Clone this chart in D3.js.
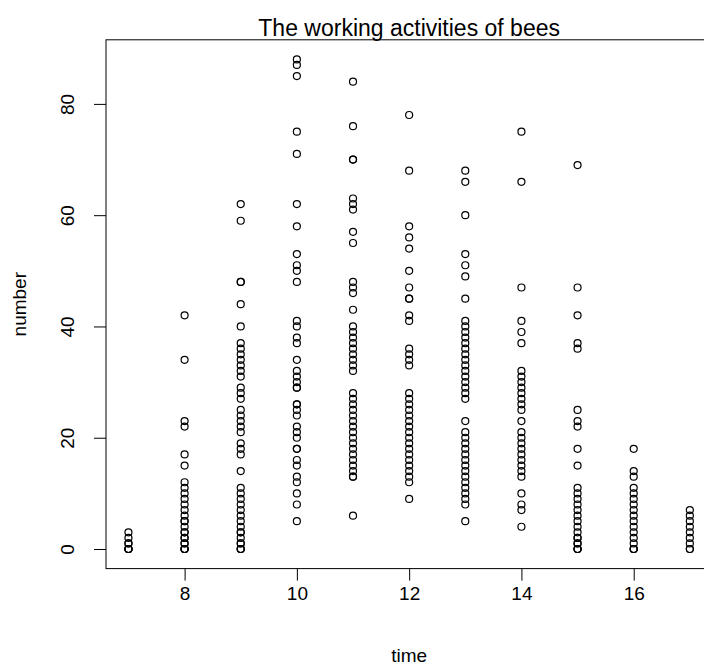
<!DOCTYPE html>
<html>
<head>
<meta charset="utf-8">
<script src="https://cdn.jsdelivr.net/npm/d3@7"></script>
<style>
  body { margin: 0; background: #fff; }
  svg { display: block; font-family: "Liberation Sans", Arial, sans-serif; }
</style>
</head>
<body>
<div id="chart"></div>
<script>
// hour of the day
var times = [7, 8, 9, 10, 11, 12, 13, 14, 15, 16, 17];

// number of working bees counted at each hour
var h7 = [0, 0, 0, 0, 1, 1, 2, 3];
var h8 = [42, 34, 23, 22, 17, 15, 12, 11, 10, 9, 8, 7, 6, 5, 5, 4, 3, 3, 2, 2, 1, 1, 0, 0, 0, 0];
var h9 = [62, 59, 48, 48, 44, 40, 37, 36, 35, 34, 33, 32, 31, 29, 28, 27, 25, 24, 23, 22, 21, 19, 18, 17, 14, 11, 10, 9, 8, 7, 6, 5, 4, 3, 3, 2, 1, 1, 0, 0, 0];
var h10 = [88, 87, 85, 75, 71, 62, 58, 53, 51, 50, 48, 41, 40, 38, 37, 34, 32, 31, 30, 29, 29, 26, 26, 25, 24, 22, 21, 20, 18, 18, 16, 15, 13, 12, 10, 8, 5];
var h11 = [84, 76, 70, 70, 63, 62, 61, 57, 55, 48, 47, 46, 43, 40, 39, 38, 37, 36, 35, 34, 33, 32, 28, 27, 26, 25, 24, 23, 22, 21, 20, 19, 18, 17, 16, 15, 14, 13, 13, 6];
var h12 = [78, 68, 58, 56, 54, 50, 47, 45, 45, 42, 41, 36, 35, 34, 33, 28, 27, 26, 25, 24, 23, 22, 21, 20, 19, 18, 17, 16, 15, 14, 13, 12, 9];
var h13 = [68, 66, 60, 53, 51, 49, 45, 41, 40, 39, 38, 37, 36, 35, 34, 33, 32, 31, 30, 29, 28, 27, 23, 21, 20, 19, 18, 17, 16, 15, 14, 13, 12, 11, 10, 9, 8, 5];
var h14 = [75, 66, 47, 41, 39, 37, 32, 31, 30, 29, 28, 27, 26, 25, 23, 21, 20, 19, 18, 17, 16, 15, 14, 13, 10, 8, 7, 4];
var h15 = [69, 47, 42, 37, 36, 25, 23, 22, 18, 15, 11, 10, 9, 8, 7, 6, 5, 4, 3, 2, 1, 0, 0, 0, 1, 2];
var h16 = [18, 14, 13, 11, 10, 9, 8, 7, 6, 5, 4, 3, 2, 1, 0, 0, 0];
var h17 = [7, 6, 5, 4, 3, 2, 1, 0, 0];
var countsByTime = [h7, h8, h9, h10, h11, h12, h13, h14, h15, h16, h17];

var xTicks = [8, 10, 12, 14, 16];
var yTicks = [0, 20, 40, 60, 80];

var width = 704, height = 668;

// flatten into (time, number) pairs
var points = [];
times.forEach(function(t, i) {
	countsByTime[i].forEach(function(n) {
		points.push({ time: t, number: n });
	});
});

var svg = d3.select("#chart").append("svg")
	.attr("width", width)
	.attr("height", height);

// R style 4% padding around the data range
var x = d3.scaleLinear().domain([6.6, 17.4]).range([106, 712.3]);
var y = d3.scaleLinear().domain([-3.52, 91.52]).range([568.6, 39.8]);

// points
svg.append("g")
	.selectAll("circle")
	.data(points)
	.enter()
	.append("circle")
	.attr("cx", function(d) { return x(d.time); })
	.attr("cy", function(d) { return y(d.number); })
	.attr("r", 3.5)
	.attr("fill", "none")
	.attr("stroke", "#000")
	.attr("stroke-width", 1.2);

// plot box
svg.append("rect")
	.attr("x", x.range()[0])
	.attr("y", y.range()[1])
	.attr("width", x.range()[1] - x.range()[0])
	.attr("height", y.range()[0] - y.range()[1])
	.attr("fill", "none")
	.attr("stroke", "#000")
	.attr("stroke-width", 1);

// x axis
var xAxis = svg.append("g")
	.attr("transform", "translate(0," + y.range()[0] + ")")
	.call(d3.axisBottom(x).tickValues(xTicks).tickSize(12).tickSizeOuter(0).tickPadding(6));
xAxis.select(".domain").remove();
xAxis.selectAll("text")
	.attr("font-size", 19)
	.attr("font-family", "Liberation Sans, Arial, sans-serif")
	.attr("fill", "#000");

// y axis, labels turned like R's default las = 0
var yAxis = svg.append("g")
	.attr("transform", "translate(" + x.range()[0] + ",0)")
	.call(d3.axisLeft(y).tickValues(yTicks).tickSize(12).tickSizeOuter(0));
yAxis.select(".domain").remove();
yAxis.selectAll("text")
	.attr("x", null)
	.attr("dy", null)
	.attr("text-anchor", "middle")
	.attr("transform", "translate(-32,0) rotate(-90)")
	.attr("font-size", 19)
	.attr("font-family", "Liberation Sans, Arial, sans-serif")
	.attr("fill", "#000");

// labels
svg.append("text")
	.attr("x", (106 + 712.3) / 2)
	.attr("y", 36)
	.attr("text-anchor", "middle")
	.attr("font-size", 23)
	.text("The working activities of bees");

svg.append("text")
	.attr("x", (106 + 712.3) / 2)
	.attr("y", 662)
	.attr("text-anchor", "middle")
	.attr("font-size", 19)
	.text("time");

svg.append("text")
	.attr("transform", "translate(26," + (y.range()[0] + y.range()[1]) / 2 + ") rotate(-90)")
	.attr("text-anchor", "middle")
	.attr("font-size", 19)
	.text("number");
</script>
</body>
</html>
